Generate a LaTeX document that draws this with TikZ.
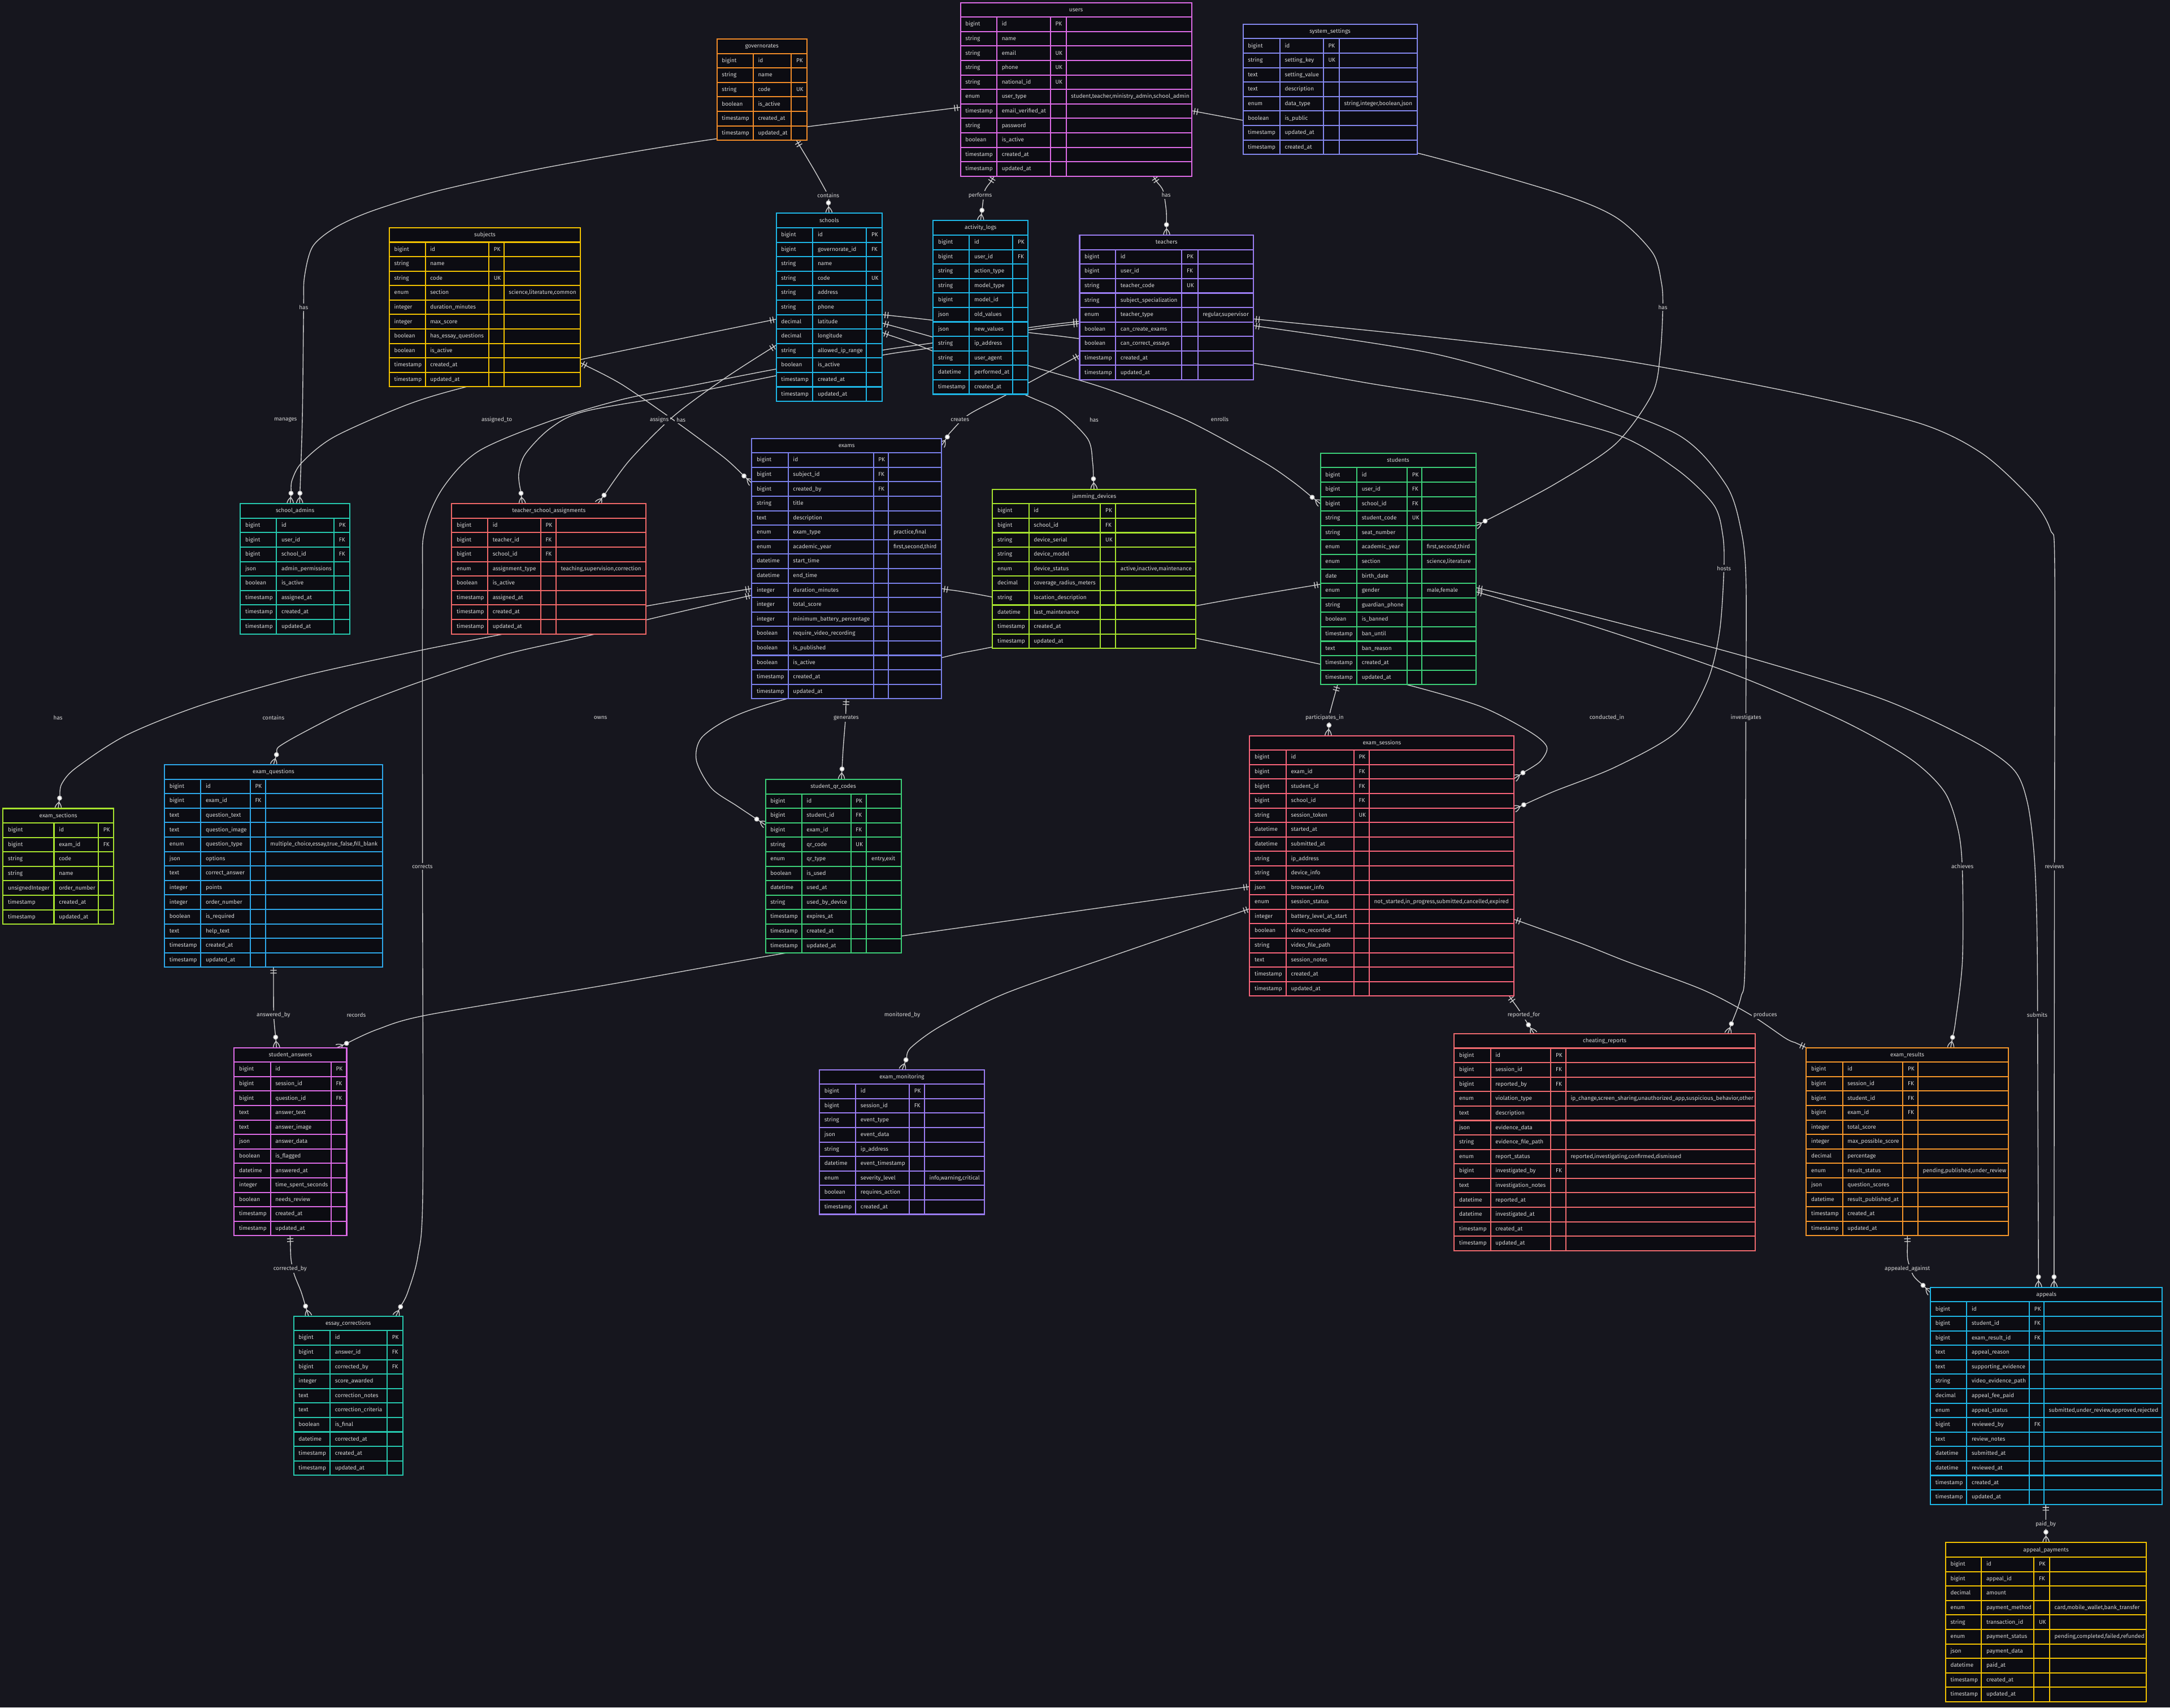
\documentclass[tikz,border=0pt]{standalone}
\usepackage{fontspec}
\setmainfont{Fira Sans}
\usetikzlibrary{calc}

\definecolor{bgc}{HTML}{16161E}
\definecolor{cellc}{HTML}{0C0C12}
\definecolor{txtc}{HTML}{D8D8D8}
\definecolor{linec}{HTML}{CFCFCF}
\definecolor{cOrange}{HTML}{F28C28}
\definecolor{cMagenta}{HTML}{DD6BE6}
\definecolor{cPeri}{HTML}{8488EE}
\definecolor{cGold}{HTML}{F2C200}
\definecolor{cCyan}{HTML}{1EB6E6}
\definecolor{cViolet}{HTML}{9B7DF2}
\definecolor{cTeal}{HTML}{26C8AE}
\definecolor{cSalmon}{HTML}{F06868}
\definecolor{cBlue}{HTML}{7A80EA}
\definecolor{cLime}{HTML}{A6E22E}
\definecolor{cGreen}{HTML}{3CCF78}
\definecolor{cSky}{HTML}{2EA8EA}
\definecolor{cRose}{HTML}{F8647A}
\definecolor{cRed}{HTML}{EE6A6E}
\definecolor{cAmber}{HTML}{F5962A}

\pgfdeclarelayer{back}
\pgfdeclarelayer{edges}
\pgfsetlayers{back,edges,main}

\newcommand\erfont{\fontsize{2.9}{3.4}\selectfont}
\newcommand\errowh{10.45}
\def\ersplit#1/#2/#3/#4\relax{\def\sepA{#1}\def\sepB{#2}\def\sepC{#3}}

\tikzset{
  tablebox/.style={fill=cellc, line width=0.6pt, inner sep=0pt, outer sep=0pt},
  erline/.style={line width=0.6pt},
  ercell/.style={font=\erfont, text=txtc, inner sep=0pt, anchor=base west},
  erhead/.style={font=\erfont, text=txtc, inner sep=0pt, anchor=base},
  lbl/.style={font=\erfont, text=txtc, fill=bgc, inner sep=0.8pt},
  rel/.style={draw=linec, line width=0.4pt},
  mk/.style={draw=linec, line width=0.4pt},
}

% #1 name, #2 colour, #3 left, #4 top, #5 right, #6 column rules a/b/c, #7 title, #8 rows
\newcommand\ertable[8]{%
  \gdef\ernrows{0}%
  \foreach \ra/\rb/\rc/\rd [count=\ri] in {#8}{\xdef\ernrows{\ri}}%
  \ersplit#6//\relax
  \pgfmathsetmacro\erh{(\ernrows+1)*\errowh}%
  \pgfmathsetmacro\erbot{#4+\erh}%
  \node[tablebox, draw=#2, minimum width={(#5-#3)*0.25mm}, minimum height={\erh*0.25mm}, anchor=north west] (#1) at (#3,#4) {};
  \node[erhead] at ({(#3+#5)/2},{#4+\errowh/2+1.15}) {#7};
  \foreach \ra/\rb/\rc/\rd [count=\ri] in {#8}{%
    \pgfmathsetmacro\ery{#4+\ri*\errowh}%
    \draw[erline, #2] (#3,\ery) -- (#5,\ery);
    \pgfmathsetmacro\erbase{\ery+\errowh/2+1.15}%
    \node[ercell] at (#3+3.3,\erbase) {\ra};
    \node[ercell] at (\sepA+3.3,\erbase) {\rb};
    \node[ercell] at (\sepB+3.3,\erbase) {\rc};
    \ifx\sepC\empty\else\node[ercell] at (\sepC+3.3,\erbase) {\rd};\fi
  }%
  \draw[erline, #2] (\sepA,{#4+\errowh}) -- (\sepA,\erbot) (\sepB,{#4+\errowh}) -- (\sepB,\erbot);
  \ifx\sepC\empty\else\draw[erline, #2] (\sepC,{#4+\errowh}) -- (\sepC,\erbot);\fi
  \draw[erline, #2] (#1.north west) rectangle (#1.south east);
}

% direction (canvas degrees) from coordinate #1 towards coordinate #2
\makeatletter
\newcommand\mkangle[2]{%
  \pgfpointanchor{#1}{center}\edef\mkxa{\the\pgf@x}\edef\mkya{\the\pgf@y}%
  \pgfpointanchor{#2}{center}\edef\mkxb{\the\pgf@x}\edef\mkyb{\the\pgf@y}%
  \pgfmathsetmacro\mkang{atan2(\mkyb-\mkya,\mkxb-\mkxa)}}
\makeatother
% "exactly one" bars at #1, the line running towards #2
\newcommand\onemark[2]{\mkangle{#1}{#2}%
  \begin{scope}[shift={(\mkxa,\mkya)}, rotate=\mkang]
    \draw[mk] (2.2,-2.3) -- (2.2,2.3) (4.2,-2.3) -- (4.2,2.3);
  \end{scope}}
% "zero or many" circle and crow's foot at #1, the line running towards #2
\newcommand\manymark[2]{\mkangle{#1}{#2}%
  \begin{scope}[shift={(\mkxa,\mkya)}, rotate=\mkang]
    \draw[mk] (4.6,0) .. controls (3.07,1.53) and (1.53,2.3) .. (0,2.3)
              (4.6,0) .. controls (3.07,-1.53) and (1.53,-2.3) .. (0,-2.3);
    \draw[mk, fill=white] (7.6,0) circle[radius=1.5];
  \end{scope}}
% relationship line: #1 start, #2 first bend point, #3 bend points, #4 last bend point, #5 end, #6 end marker
\newcommand\conn[6]{%
  \coordinate (cS) at #1;
  \coordinate (cE) at #5;
  \coordinate (cS1) at ($(cS)!1.5mm!#2$);
  \coordinate (cE1) at ($(cE)!2.3mm!#4$);
  \draw[rel] (cS) -- plot[smooth] coordinates {(cS1) #3 (cE1)} -- (cE);
  \onemark{cS}{cS1}%
  #6{cE}{cE1}%
}

\begin{document}
\catcode`\_=12
\begin{tikzpicture}[x=0.25mm, y=-0.25mm]
\useasboundingbox (0,0) rectangle (1568,1233.6);
\begin{pgfonlayer}{back}
  \fill[bgc] (0,0) rectangle (1568,1233.6);
\end{pgfonlayer}

% ---------------- tables ----------------
\ertable{gov}{cOrange}{518}{28.2}{583}{544.2/571.8/}{governorates}{
 bigint/id/PK/{}, string/name/{}/{}, string/code/UK/{}, boolean/is_active/{}/{},
 timestamp/created_at/{}/{}, timestamp/updated_at/{}/{}}

\ertable{users}{cMagenta}{694}{1.9}{861}{720.3/759/770.4}{users}{
 bigint/id/PK/{}, string/name/{}/{}, string/email/UK/{}, string/phone/UK/{},
 string/national_id/UK/{}, enum/user_type/{}/{student,teacher,ministry_admin,school_admin},
 timestamp/email_verified_at/{}/{}, string/password/{}/{}, boolean/is_active/{}/{},
 timestamp/created_at/{}/{}, timestamp/updated_at/{}/{}}

\ertable{settings}{cPeri}{898.2}{17.5}{1023.9}{924.8/956.2/967.7}{system_settings}{
 bigint/id/PK/{}, string/setting_key/UK/{}, text/setting_value/{}/{}, text/description/{}/{},
 enum/data_type/{}/{string,integer,boolean,json}, boolean/is_public/{}/{},
 timestamp/updated_at/{}/{}, timestamp/created_at/{}/{}}

\ertable{subjects}{cGold}{281.3}{164.5}{419.4}{307.3/353.2/364.1}{subjects}{
 bigint/id/PK/{}, string/name/{}/{}, string/code/UK/{}, enum/section/{}/{science,literature,common},
 integer/duration_minutes/{}/{}, integer/max_score/{}/{}, boolean/has_essay_questions/{}/{},
 boolean/is_active/{}/{}, timestamp/created_at/{}/{}, timestamp/updated_at/{}/{}}

\ertable{schools}{cCyan}{560.9}{154.1}{637.4}{587.3/626.1/}{schools}{
 bigint/id/PK/{}, bigint/governorate_id/FK/{}, string/name/{}/{}, string/code/UK/{},
 string/address/{}/{}, string/phone/{}/{}, decimal/latitude/{}/{}, decimal/longitude/{}/{},
 string/allowed_ip_range/{}/{}, boolean/is_active/{}/{}, timestamp/created_at/{}/{},
 timestamp/updated_at/{}/{}}

\ertable{activity}{cCyan}{674.3}{159.4}{742.8}{700.4/731.9/}{activity_logs}{
 bigint/id/PK/{}, bigint/user_id/FK/{}, string/action_type/{}/{}, string/model_type/{}/{},
 bigint/model_id/{}/{}, json/old_values/{}/{}, json/new_values/{}/{}, string/ip_address/{}/{},
 string/user_agent/{}/{}, datetime/performed_at/{}/{}, timestamp/created_at/{}/{}}

\ertable{teachers}{cViolet}{780.1}{169.9}{905.6}{806.1/854/865.5}{teachers}{
 bigint/id/PK/{}, bigint/user_id/FK/{}, string/teacher_code/UK/{}, string/subject_specialization/{}/{},
 enum/teacher_type/{}/{regular,supervisor}, boolean/can_create_exams/{}/{},
 boolean/can_correct_essays/{}/{}, timestamp/created_at/{}/{}, timestamp/updated_at/{}/{}}

\ertable{sadmins}{cTeal}{173.7}{363.9}{252.7}{199.8/241.4/}{school_admins}{
 bigint/id/PK/{}, bigint/user_id/FK/{}, bigint/school_id/FK/{}, json/admin_permissions/{}/{},
 boolean/is_active/{}/{}, timestamp/assigned_at/{}/{}, timestamp/created_at/{}/{},
 timestamp/updated_at/{}/{}}

\ertable{tsa}{cSalmon}{326.4}{363.9}{466.8}{352.4/390.7/401.7}{teacher_school_assignments}{
 bigint/id/PK/{}, bigint/teacher_id/FK/{}, bigint/school_id/FK/{},
 enum/assignment_type/{}/{teaching,supervision,correction}, boolean/is_active/{}/{},
 timestamp/assigned_at/{}/{}, timestamp/created_at/{}/{}, timestamp/updated_at/{}/{}}

\ertable{exams}{cBlue}{543.2}{316.7}{680.3}{569.5/631.1/642}{exams}{
 bigint/id/PK/{}, bigint/subject_id/FK/{}, bigint/created_by/FK/{}, string/title/{}/{},
 text/description/{}/{}, enum/exam_type/{}/{practice,final}, enum/academic_year/{}/{first,second,third},
 datetime/start_time/{}/{}, datetime/end_time/{}/{}, integer/duration_minutes/{}/{},
 integer/total_score/{}/{}, integer/minimum_battery_percentage/{}/{},
 boolean/require_video_recording/{}/{}, boolean/is_published/{}/{}, boolean/is_active/{}/{},
 timestamp/created_at/{}/{}, timestamp/updated_at/{}/{}}

\ertable{jamming}{cLime}{717.2}{353.5}{864.1}{743.4/795.2/806.1}{jamming_devices}{
 bigint/id/PK/{}, bigint/school_id/FK/{}, string/device_serial/UK/{}, string/device_model/{}/{},
 enum/device_status/{}/{active,inactive,maintenance}, decimal/coverage_radius_meters/{}/{},
 string/location_description/{}/{}, datetime/last_maintenance/{}/{}, timestamp/created_at/{}/{},
 timestamp/updated_at/{}/{}}

\ertable{students}{cGreen}{954.1}{327.4}{1066.4}{980.4/1016.8/1027.4}{students}{
 bigint/id/PK/{}, bigint/user_id/FK/{}, bigint/school_id/FK/{}, string/student_code/UK/{},
 string/seat_number/{}/{}, enum/academic_year/{}/{first,second,third},
 enum/section/{}/{science,literature}, date/birth_date/{}/{}, enum/gender/{}/{male,female},
 string/guardian_phone/{}/{}, boolean/is_banned/{}/{}, timestamp/ban_until/{}/{},
 text/ban_reason/{}/{}, timestamp/created_at/{}/{}, timestamp/updated_at/{}/{}}

\ertable{sections}{cLime}{2.2}{584.1}{82}{39/71.1/}{exam_sections}{
 bigint/id/PK/{}, bigint/exam_id/FK/{}, string/code/{}/{}, string/name/{}/{},
 unsignedInteger/order_number/{}/{}, timestamp/created_at/{}/{}, timestamp/updated_at/{}/{}}

\ertable{questions}{cSky}{118.9}{552.5}{276.4}{145.1/180.8/191.8}{exam_questions}{
 bigint/id/PK/{}, bigint/exam_id/FK/{}, text/question_text/{}/{}, text/question_image/{}/{},
 enum/question_type/{}/{multiple_choice,essay,true_false,fill_blank}, json/options/{}/{},
 text/correct_answer/{}/{}, integer/points/{}/{}, integer/order_number/{}/{},
 boolean/is_required/{}/{}, text/help_text/{}/{}, timestamp/created_at/{}/{},
 timestamp/updated_at/{}/{}}

\ertable{qr}{cGreen}{553.1}{563.1}{651.1}{579.3/614.8/626.1}{student_qr_codes}{
 bigint/id/PK/{}, bigint/student_id/FK/{}, bigint/exam_id/FK/{}, string/qr_code/UK/{},
 enum/qr_type/{}/{entry,exit}, boolean/is_used/{}/{}, datetime/used_at/{}/{},
 string/used_by_device/{}/{}, timestamp/expires_at/{}/{}, timestamp/created_at/{}/{},
 timestamp/updated_at/{}/{}}

\ertable{sessions}{cRose}{903}{531.5}{1094.1}{929.3/978.3/989.3}{exam_sessions}{
 bigint/id/PK/{}, bigint/exam_id/FK/{}, bigint/student_id/FK/{}, bigint/school_id/FK/{},
 string/session_token/UK/{}, datetime/started_at/{}/{}, datetime/submitted_at/{}/{},
 string/ip_address/{}/{}, string/device_info/{}/{}, json/browser_info/{}/{},
 enum/session_status/{}/{not_started,in_progress,submitted,cancelled,expired},
 integer/battery_level_at_start/{}/{}, boolean/video_recorded/{}/{}, string/video_file_path/{}/{},
 text/session_notes/{}/{}, timestamp/created_at/{}/{}, timestamp/updated_at/{}/{}}

\ertable{answers}{cMagenta}{169.2}{756.9}{250.5}{195.4/239.2/}{student_answers}{
 bigint/id/PK/{}, bigint/session_id/FK/{}, bigint/question_id/FK/{}, text/answer_text/{}/{},
 text/answer_image/{}/{}, json/answer_data/{}/{}, boolean/is_flagged/{}/{},
 datetime/answered_at/{}/{}, integer/time_spent_seconds/{}/{}, boolean/needs_review/{}/{},
 timestamp/created_at/{}/{}, timestamp/updated_at/{}/{}}

\ertable{monitoring}{cViolet}{592.1}{772.8}{711.3}{618.3/657/668}{exam_monitoring}{
 bigint/id/PK/{}, bigint/session_id/FK/{}, string/event_type/{}/{}, json/event_data/{}/{},
 string/ip_address/{}/{}, datetime/event_timestamp/{}/{}, enum/severity_level/{}/{info,warning,critical},
 boolean/requires_action/{}/{}, timestamp/created_at/{}/{}}

\ertable{essay}{cTeal}{212.2}{950.9}{291}{238.5/279.7/}{essay_corrections}{
 bigint/id/PK/{}, bigint/answer_id/FK/{}, bigint/corrected_by/FK/{}, integer/score_awarded/{}/{},
 text/correction_notes/{}/{}, text/correction_criteria/{}/{}, boolean/is_final/{}/{},
 datetime/corrected_at/{}/{}, timestamp/created_at/{}/{}, timestamp/updated_at/{}/{}}

\ertable{cheating}{cRed}{1050.8}{746.8}{1268.2}{1077/1120.6/1131.4}{cheating_reports}{
 bigint/id/PK/{}, bigint/session_id/FK/{}, bigint/reported_by/FK/{},
 enum/violation_type/{}/{ip_change,screen_sharing,unauthorized_app,suspicious_behavior,other},
 text/description/{}/{}, json/evidence_data/{}/{}, string/evidence_file_path/{}/{},
 enum/report_status/{}/{reported,investigating,confirmed,dismissed}, bigint/investigated_by/FK/{},
 text/investigation_notes/{}/{}, datetime/reported_at/{}/{}, datetime/investigated_at/{}/{},
 timestamp/created_at/{}/{}, timestamp/updated_at/{}/{}}

\ertable{results}{cAmber}{1305.2}{756.9}{1451.1}{1331.4/1375/1385.8}{exam_results}{
 bigint/id/PK/{}, bigint/session_id/FK/{}, bigint/student_id/FK/{}, bigint/exam_id/FK/{},
 integer/total_score/{}/{}, integer/max_possible_score/{}/{}, decimal/percentage/{}/{},
 enum/result_status/{}/{pending,published,under_review}, json/question_scores/{}/{},
 datetime/result_published_at/{}/{}, timestamp/created_at/{}/{}, timestamp/updated_at/{}/{}}

\ertable{appeals}{cCyan}{1394.9}{930.1}{1562.4}{1421.1/1466.4/1476.9}{appeals}{
 bigint/id/PK/{}, bigint/student_id/FK/{}, bigint/exam_result_id/FK/{}, text/appeal_reason/{}/{},
 text/supporting_evidence/{}/{}, string/video_evidence_path/{}/{}, decimal/appeal_fee_paid/{}/{},
 enum/appeal_status/{}/{submitted,under_review,approved,rejected}, bigint/reviewed_by/FK/{},
 text/review_notes/{}/{}, datetime/submitted_at/{}/{}, datetime/reviewed_at/{}/{},
 timestamp/created_at/{}/{}, timestamp/updated_at/{}/{}}

\ertable{payments}{cGold}{1405.8}{1114.5}{1551}{1431.7/1469.7/1481}{appeal_payments}{
 bigint/id/PK/{}, bigint/appeal_id/FK/{}, decimal/amount/{}/{},
 enum/payment_method/{}/{card,mobile_wallet,bank_transfer}, string/transaction_id/UK/{},
 enum/payment_status/{}/{pending,completed,failed,refunded}, json/payment_data/{}/{},
 datetime/paid_at/{}/{}, timestamp/created_at/{}/{}, timestamp/updated_at/{}/{}}

% ---------------- relationships (under the tables) ----------------
\begin{pgfonlayer}{edges}
% governorates -> schools
\conn{([shift={(57.5,0)}]gov.south west)}{(589,124)}{(589,124) (598.3,141)}{(598.3,141)}{([shift={(38.1,0)}]schools.north west)}{\manymark}
% users -> activity_logs
\conn{([shift={(24.4,0)}]users.south west)}{(711.5,138)}{(711.5,138)}{(711.5,138)}{([shift={(34.2,0)}]activity.north west)}{\manymark}
% users -> teachers
\conn{([shift={(139.2,0)}]users.south west)}{(840.5,138)}{(840.5,138) (842.7,152)}{(842.7,152)}{([shift={(62.9,0)}]teachers.north west)}{\manymark}
% users -> school_admins
\conn{([shift={(0,75.6)}]users.north west)}{(514.5,100.7)}{(514.5,100.7) (400,120) (320,137) (270,152) (243,164) (226,178) (220,200) (219.4,222) (218.5,300)}{(218.5,300)}{([shift={(42.8,0)}]sadmins.north west)}{\manymark}
% users -> students
\conn{([shift={(0,78.1)}]users.north east)}{(960,98.5)}{(960,98.5) (1023.9,110.5) (1123,138.5) (1167.3,156.8) (1193.9,182.3) (1200.5,204.2) (1201.5,222) (1199.7,255.2) (1193.9,284.4) (1167.3,320.8) (1123,350)}{(1123,350)}{([shift={(0,52.6)}]students.north east)}{\manymark}
% schools -> school_admins
\conn{([shift={(0,76.5)}]schools.north west)}{(419.9,259.7)}{(419.9,259.7) (336,279.7) (293.6,292.6) (241.5,315.6) (218,334.3) (211,347)}{(211,347)}{([shift={(36,0)}]sadmins.north west)}{\manymark}
% schools -> teacher_school_assignments
\conn{([shift={(0,95.2)}]schools.north west)}{(522.8,273.9)}{(522.8,273.9) (486.3,301) (455.1,332.3)}{(455.1,332.3)}{([shift={(105.6,0)}]tsa.north west)}{\manymark}
% subjects -> exams
\conn{([shift={(0,97.5)}]subjects.north east)}{(449.9,278.1)}{(449.9,278.1) (489,305.1) (522.8,330.2)}{(522.8,330.2)}{([shift={(0,32.3)}]exams.north west)}{\manymark}
% teachers -> essay_corrections
\conn{([shift={(0,62.2)}]teachers.north west)}{(742.8,236.8)}{(742.8,236.8) (674.3,247.7) (637.4,253) (560.9,266.6) (502,278.1) (449.9,288.5) (397.8,304.1) (345.7,326) (319.6,353.1) (306.6,384.2) (305.3,425.9) (305.3,626) (305.5,860) (301.9,907.7) (294.6,933.7)}{(294.6,933.7)}{([shift={(73.8,0)}]essay.north west)}{\manymark}
% teachers -> teacher_school_assignments
\conn{([shift={(0,63.8)}]teachers.north west)}{(742.8,238.5)}{(742.8,238.5) (674.3,251) (637.4,256.6) (560.9,271.4) (502,283.3) (423.8,296.9) (397.8,309.3) (379.5,328.1) (374.8,342.7)}{(374.8,342.7)}{([shift={(51,0)}]tsa.north west)}{\manymark}
% teachers -> exams
\conn{([shift={(0,86.7)}]teachers.north west)}{(727.4,285.1)}{(727.4,285.1) (700,299.5) (687,312)}{(687,312)}{([shift={(0,5.3)}]exams.north east)}{\manymark}
% schools -> jamming_devices
\conn{([shift={(0,86.1)}]schools.north east)}{(674.3,253.8)}{(674.3,253.8) (740.5,285.1) (765.2,296.7) (786,317.1) (789.5,334)}{(789.5,334)}{([shift={(73.3,0)}]jamming.north west)}{\manymark}
% schools -> students
\conn{([shift={(0,79.3)}]schools.north east)}{(674.3,243.6)}{(674.3,243.6) (742.8,264) (800,281) (857.5,303.7) (912.2,333.3) (934,347.9)}{(934,347.9)}{([shift={(0,36.6)}]students.north west)}{\manymark}
% schools -> exam_sessions
\conn{([shift={(0,73.2)}]schools.north east)}{(674.3,231.4)}{(674.3,231.4) (742.8,240.2) (780.1,244.7) (905.6,262.4) (990.3,277.1) (1078.9,291.7) (1167.3,313.6) (1211.6,339.1) (1238.2,364.6) (1244.8,386.4) (1245.7,410.5) (1242.6,455.7) (1233.7,492.2) (1211.6,528.6) (1167.3,554.1) (1123,571.7)}{(1123,571.7)}{([shift={(0,53)}]sessions.north east)}{\manymark}
% teachers -> cheating_reports
\conn{([shift={(0,65.3)}]teachers.north east)}{(1034.5,255.2)}{(1034.5,255.2) (1123,280.7) (1211.6,313.6) (1247,350) (1258,382.8) (1261.6,419.3) (1261.5,518.4) (1260.9,694.2) (1258,720.2)}{(1258,720.2)}{([shift={(197.7,0)}]cheating.north west)}{\manymark}
% teachers -> appeals
\conn{([shift={(0,60.5)}]teachers.north east)}{(1034.5,243.5)}{(1034.5,243.5) (1167.3,259.6) (1300.1,284.4) (1388.6,306.3) (1432.9,328.1) (1468.3,360.9) (1481.6,382.8) (1484.7,410) (1484.5,626)}{(1484.5,626)}{([shift={(89.3,0)}]appeals.north west)}{\manymark}
% exams -> exam_sections
\conn{([shift={(0,108.5)}]exams.north west)}{(466.8,437.9)}{(466.8,437.9) (362.6,458.3) (302.6,470.1) (218.8,488.4) (145.9,509.3) (91.2,531.2) (54.7,554.9) (44.5,566.5)}{(44.5,566.5)}{([shift={(39.8,0)}]sections.north west)}{\manymark}
% exams -> exam_questions
\conn{([shift={(0,113.3)}]exams.north west)}{(466.8,447.9)}{(466.8,447.9) (429.1,458.3) (364.6,472.9) (302.6,492.9) (255.2,511.1) (218.8,529.4) (201.5,539.5)}{(201.5,539.5)}{([shift={(78.7,0)}]questions.north west)}{\manymark}
% students -> student_qr_codes
\conn{([shift={(0,94.7)}]students.north west)}{(864.1,437.7)}{(864.1,437.7) (717.2,467.4) (680.3,475.2) (565.5,505.7) (528.7,518.4) (506.9,533) (503.2,549.4) (514.1,569.5) (532.4,582.2)}{(532.4,582.2)}{([shift={(0,32.9)}]qr.north west)}{\manymark}
% exams -> student_qr_codes
\conn{([shift={(68.2,0)}]exams.south west)}{(611,518.4)}{(611,518.4) (609.3,540)}{(609.3,540)}{([shift={(54.9,0)}]qr.north west)}{\manymark}
% students -> exam_sessions
\conn{([shift={(12.4,0)}]students.south west)}{(961,515)}{(961,515)}{(961,515)}{([shift={(56.7,0)}]sessions.north west)}{\manymark}
% exams -> exam_sessions
\conn{([shift={(0,108.5)}]exams.north east)}{(717.2,431.4)}{(717.2,431.4) (864.1,461.1) (954.1,479.9) (1016.8,494.7) (1069.9,510.4) (1105.3,528.6) (1117.7,539.6) (1113,550)}{(1113,550)}{([shift={(0,31)}]sessions.north east)}{\manymark}
% students -> exam_results
\conn{([shift={(0,100.1)}]students.north east)}{(1150,452)}{(1150,452) (1250,486) (1330,520) (1380,548) (1405,572) (1415,600) (1418,630) (1418,694) (1413,738)}{(1413,738)}{([shift={(104.3,0)}]results.north west)}{\manymark}
% students -> appeals
\conn{([shift={(0,97.1)}]students.north east)}{(1150,445)}{(1150,445) (1260,474) (1360,505) (1425,535) (1455,556) (1465,580) (1470,620) (1472,680) (1472.5,800)}{(1472.5,800)}{([shift={(78.1,0)}]appeals.north west)}{\manymark}
% exam_questions -> student_answers
\conn{([shift={(78.7,0)}]questions.south west)}{(197.8,733.2)}{(197.8,733.2)}{(197.8,733.2)}{([shift={(30.6,0)}]answers.north west)}{\manymark}
% exam_sessions -> student_answers
\conn{([shift={(0,109)}]sessions.north west)}{(651.1,676.3)}{(651.1,676.3) (568,688.5) (437.6,711.7) (309.2,733.2) (272.7,743.7)}{(272.7,743.7)}{([shift={(74.3,0)}]answers.north west)}{\manymark}
% exam_sessions -> exam_monitoring
\conn{([shift={(0,125)}]sessions.north west)}{(804.2,690.5)}{(804.2,690.5) (726.1,717.8) (679.2,741.6) (658,757)}{(658,757)}{([shift={(59.8,0)}]monitoring.north west)}{\manymark}
% exam_sessions -> cheating_reports
\conn{([shift={(187.5,0)}]sessions.south west)}{(1097.5,729.5)}{(1097.5,729.5)}{(1097.5,729.5)}{([shift={(57.7,0)}]cheating.north west)}{\manymark}
% exam_sessions -> exam_results
\conn{([shift={(0,132.7)}]sessions.north east)}{(1143.3,681.9)}{(1143.3,681.9) (1174.3,694.2) (1230.2,715) (1265,733.2) (1290,750)}{(1290,750)}{(results.north west)}{\onemark}
% student_answers -> essay_corrections
\conn{([shift={(40.4,0)}]answers.south west)}{(210.3,910)}{(210.3,910) (212.6,920.7) (217.5,933)}{(217.5,933)}{([shift={(10.8,0)}]essay.north west)}{\manymark}
% exam_results -> appeals
\conn{([shift={(73,0)}]results.south west)}{(1378.5,910)}{(1378.5,910) (1382.5,921.5)}{(1382.5,921.5)}{([shift={(0,3.9)}]appeals.north west)}{\manymark}
% appeals -> appeal_payments
\conn{([shift={(83.3,0)}]appeals.south west)}{(1478.3,1101)}{(1478.3,1101)}{(1478.3,1101)}{([shift={(72.6,0)}]payments.north west)}{\manymark}
\end{pgfonlayer}

% ---------------- relationship labels ----------------
\node[lbl] (l01) at (598.5,141) {contains};
\node[lbl] (l02) at (708.3,141) {performs};
\node[lbl] (l03) at (842.6,141) {has};
\node[lbl] (l04) at (219.4,222) {has};
\node[lbl] (l05) at (1201.5,222) {has};
\node[lbl] (l06) at (206.3,303.3) {manages};
\node[lbl] (l07) at (359,303.3) {assigned_to};
\node[lbl] (l08) at (476.4,303.3) {assigns};
\node[lbl] (l09) at (492.1,303.3) {has};
\node[lbl] (l10) at (693.6,303.2) {creates};
\node[lbl] (l11) at (790.5,303.2) {has};
\node[lbl] (l12) at (881.4,303.1) {enrolls};
\node[lbl] (l13) at (1245.7,410.5) {hosts};
\node[lbl] (l14) at (305.2,626) {corrects};
\node[lbl] (l15) at (1261.6,518.4) {investigates};
\node[lbl] (l16) at (1484.5,626) {reviews};
\node[lbl] (l17) at (41.9,518.4) {has};
\node[lbl] (l18) at (197.6,518.4) {contains};
\node[lbl] (l19) at (433.9,518.4) {owns};
\node[lbl] (l20) at (611.4,518.5) {generates};
\node[lbl] (l21) at (957.1,518.5) {participates_in};
\node[lbl] (l22) at (1161.1,518.4) {conducted_in};
\node[lbl] (l23) at (1418,626) {achieves};
\node[lbl] (l24) at (1472,733.2) {submits};
\node[lbl] (l25) at (197.6,733.2) {answered_by};
\node[lbl] (l26) at (257.4,733.2) {records};
\node[lbl] (l27) at (651.9,733.4) {monitored_by};
\node[lbl] (l28) at (1101.1,733.4) {reported_for};
\node[lbl] (l29) at (1275.5,733.2) {produces};
\node[lbl] (l30) at (209.6,916.5) {corrected_by};
\node[lbl] (l31) at (1378.2,916.5) {appealed_against};
\node[lbl] (l32) at (1478.2,1101.2) {paid_by};
\end{tikzpicture}
\end{document}
